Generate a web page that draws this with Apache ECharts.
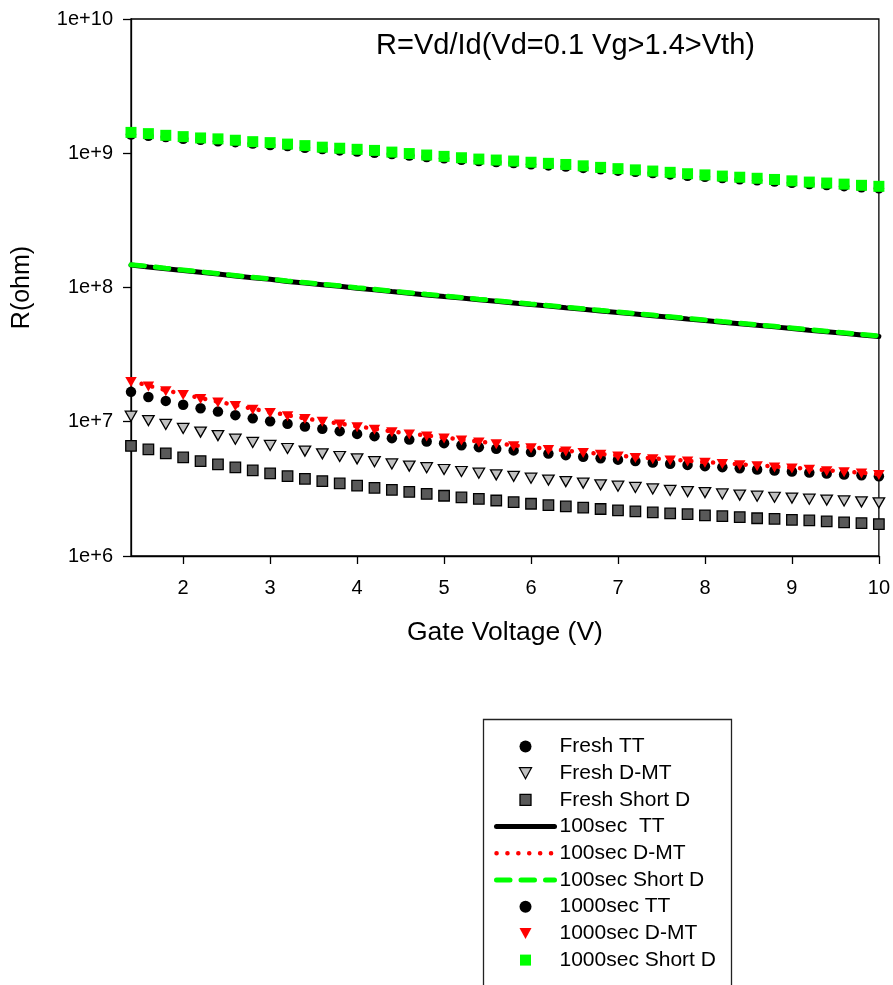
<!DOCTYPE html>
<html>
<head>
<meta charset="utf-8">
<script src="https://cdn.jsdelivr.net/npm/echarts@6/dist/echarts.min.js"></script>
<style>
  html, body { margin: 0; padding: 0; background: #fff; }
  #chart { width: 893px; height: 985px; }
</style>
</head>
<body>
<div id="chart"></div>
<script>
// Gate voltage sweep (V)
const gateVoltage = [1.4, 1.6, 1.8, 2.0, 2.2, 2.4, 2.6, 2.8, 3.0, 3.2, 3.4, 3.6, 3.8, 4.0, 4.2, 4.4,
  4.6, 4.8, 5.0, 5.2, 5.4, 5.6, 5.8, 6.0, 6.2, 6.4, 6.6, 6.8, 7.0, 7.2, 7.4, 7.6, 7.8, 8.0,
  8.2, 8.4, 8.6, 8.8, 9.0, 9.2, 9.4, 9.6, 9.8, 10.0];

// Resistance R = Vd/Id (ohm)
const freshTT = [1.67e7, 1.53e7, 1.43e7, 1.34e7, 1.26e7, 1.19e7, 1.12e7, 1.06e7, 1.01e7, 9.65e6,
  9.23e6, 8.85e6, 8.51e6, 8.12e6, 7.81e6, 7.55e6, 7.36e6, 7.13e6, 6.93e6, 6.69e6,
  6.47e6, 6.28e6, 6.12e6, 5.94e6, 5.79e6, 5.64e6, 5.49e6, 5.35e6, 5.22e6, 5.09e6,
  4.97e6, 4.87e6, 4.77e6, 4.67e6, 4.59e6, 4.50e6, 4.41e6, 4.34e6, 4.26e6, 4.18e6,
  4.11e6, 4.05e6, 3.99e6, 3.93e6];

const freshDMT = [1.10e7, 1.02e7, 9.55e6, 8.91e6, 8.37e6, 7.88e6, 7.42e6, 7.01e6, 6.66e6, 6.32e6,
  6.04e6, 5.77e6, 5.51e6, 5.29e6, 5.04e6, 4.85e6, 4.67e6, 4.55e6, 4.41e6, 4.26e6,
  4.14e6, 4.02e6, 3.92e6, 3.80e6, 3.68e6, 3.58e6, 3.49e6, 3.39e6, 3.31e6, 3.24e6,
  3.16e6, 3.08e6, 3.02e6, 2.97e6, 2.90e6, 2.84e6, 2.79e6, 2.74e6, 2.70e6, 2.65e6,
  2.61e6, 2.57e6, 2.53e6, 2.49e6];

const freshShortD = [6.61e6, 6.22e6, 5.81e6, 5.42e6, 5.09e6, 4.81e6, 4.57e6, 4.34e6, 4.13e6, 3.93e6,
  3.76e6, 3.61e6, 3.47e6, 3.34e6, 3.22e6, 3.11e6, 3.00e6, 2.90e6, 2.81e6, 2.73e6,
  2.66e6, 2.59e6, 2.52e6, 2.45e6, 2.39e6, 2.34e6, 2.29e6, 2.24e6, 2.19e6, 2.15e6,
  2.11e6, 2.08e6, 2.05e6, 2.01e6, 1.98e6, 1.95e6, 1.91e6, 1.89e6, 1.86e6, 1.84e6,
  1.81e6, 1.78e6, 1.76e6, 1.73e6];

const sec100TT = [1.47e8, 1.42e8, 1.38e8, 1.34e8, 1.30e8, 1.26e8, 1.22e8, 1.18e8, 1.15e8, 1.11e8,
  1.08e8, 1.05e8, 1.02e8, 9.88e7, 9.60e7, 9.32e7, 9.07e7, 8.81e7, 8.57e7, 8.34e7,
  8.11e7, 7.89e7, 7.68e7, 7.47e7, 7.27e7, 7.07e7, 6.88e7, 6.69e7, 6.51e7, 6.34e7,
  6.16e7, 6.00e7, 5.83e7, 5.68e7, 5.52e7, 5.37e7, 5.23e7, 5.09e7, 4.95e7, 4.81e7,
  4.68e7, 4.56e7, 4.43e7, 4.31e7];

const sec100DMT = [2.01e7, 1.86e7, 1.72e7, 1.60e7, 1.50e7, 1.41e7, 1.33e7, 1.25e7, 1.18e7, 1.12e7,
  1.06e7, 1.01e7, 9.70e6, 9.25e6, 8.86e6, 8.46e6, 8.16e6, 7.89e6, 7.62e6, 7.36e6,
  7.12e6, 6.89e6, 6.68e6, 6.46e6, 6.27e6, 6.10e6, 5.93e6, 5.76e6, 5.61e6, 5.46e6,
  5.34e6, 5.23e6, 5.13e6, 5.01e6, 4.92e6, 4.82e6, 4.74e6, 4.64e6, 4.56e6, 4.46e6,
  4.35e6, 4.26e6, 4.17e6, 4.07e6];

const sec100ShortD = [1.48e8, 1.44e8, 1.39e8, 1.35e8, 1.31e8, 1.27e8, 1.23e8, 1.19e8, 1.16e8, 1.12e8,
  1.09e8, 1.06e8, 1.03e8, 9.97e7, 9.69e7, 9.41e7, 9.15e7, 8.89e7, 8.65e7, 8.42e7,
  8.19e7, 7.97e7, 7.75e7, 7.54e7, 7.34e7, 7.14e7, 6.95e7, 6.76e7, 6.58e7, 6.40e7,
  6.23e7, 6.06e7, 5.89e7, 5.74e7, 5.58e7, 5.43e7, 5.28e7, 5.14e7, 5.00e7, 4.86e7,
  4.73e7, 4.60e7, 4.48e7, 4.36e7];

const sec1000TT = [1.38e9, 1.35e9, 1.32e9, 1.28e9, 1.26e9, 1.23e9, 1.21e9, 1.18e9, 1.15e9, 1.13e9,
  1.10e9, 1.075e9, 1.05e9, 1.03e9, 1.01e9, 9.86e8, 9.61e8, 9.37e8, 9.16e8, 8.94e8,
  8.75e8, 8.60e8, 8.45e8, 8.28e8, 8.12e8, 7.97e8, 7.78e8, 7.59e8, 7.42e8, 7.27e8,
  7.12e8, 6.96e8, 6.80e8, 6.67e8, 6.53e8, 6.40e8, 6.29e8, 6.16e8, 6.02e8, 5.89e8,
  5.80e8, 5.69e8, 5.57e8, 5.48e8];

const sec1000DMT = [1.98e7, 1.83e7, 1.69e7, 1.58e7, 1.48e7, 1.39e7, 1.31e7, 1.23e7, 1.16e7, 1.10e7,
  1.05e7, 9.98e6, 9.55e6, 9.11e6, 8.73e6, 8.34e6, 8.04e6, 7.77e6, 7.51e6, 7.25e6,
  7.01e6, 6.79e6, 6.58e6, 6.36e6, 6.17e6, 6.01e6, 5.84e6, 5.68e6, 5.52e6, 5.38e6,
  5.26e6, 5.15e6, 5.05e6, 4.94e6, 4.85e6, 4.75e6, 4.67e6, 4.57e6, 4.49e6, 4.39e6,
  4.28e6, 4.20e6, 4.11e6, 4.01e6];

const sec1000ShortD = [1.43e9, 1.40e9, 1.36e9, 1.33e9, 1.30e9, 1.28e9, 1.25e9, 1.22e9, 1.20e9, 1.17e9,
  1.14e9, 1.11e9, 1.09e9, 1.07e9, 1.05e9, 1.02e9, 9.95e8, 9.70e8, 9.48e8, 9.26e8,
  9.05e8, 8.90e8, 8.75e8, 8.57e8, 8.41e8, 8.25e8, 8.06e8, 7.85e8, 7.68e8, 7.52e8,
  7.37e8, 7.21e8, 7.04e8, 6.90e8, 6.76e8, 6.63e8, 6.51e8, 6.38e8, 6.23e8, 6.10e8,
  6.00e8, 5.89e8, 5.77e8, 5.67e8];

// Axis ticks
const xTicks = [2, 3, 4, 5, 6, 7, 8, 9, 10];
const yMin = 1e6, yMax = 1e10;

const FONT = "'Liberation Sans', Arial, Helvetica, sans-serif";
const pairs = ys => gateVoltage.map((x, i) => [x, ys[i]]);

// Legend marker paths: the leading moveTo points span the whole icon box,
// so the marker keeps its own proportions in the middle of it.
const LEGEND_W = 58, LEGEND_H = 12;
const boxPrefix = 'path://M0,0 M' + LEGEND_W + ',' + LEGEND_H + ' ';
const legendIcons = {
  circle: 'circle',
  triangle: boxPrefix + 'M23,0.5 L35,0.5 L29,11.5 Z',
  rect: boxPrefix + 'M23.5,0.5 L34.5,0.5 L34.5,11.5 L23.5,11.5 Z'
};

const scatter = (name, ys, symbol, size, style, rotate) => ({
  name, type: 'scatter', data: pairs(ys), symbol, symbolSize: size,
  symbolRotate: rotate || 0, symbolKeepAspect: true,
  itemStyle: Object.assign({ opacity: 1 }, style), silent: true
});
const line = (name, ys, style) => ({
  name, type: 'line', data: pairs(ys), symbol: 'none', showSymbol: false,
  lineStyle: Object.assign({ opacity: 1 }, style), itemStyle: { color: style.color }, silent: true
});

const series = [
  scatter('Fresh TT', freshTT, 'circle', 10.5, { color: '#000' }),
  scatter('Fresh D-MT', freshDMT, 'triangle', [11.5, 10],
    { color: '#c0c0c0', borderColor: '#000', borderWidth: 1.3 }, 180),
  scatter('Fresh Short D', freshShortD, 'rect', 10.5,
    { color: '#595959', borderColor: '#000', borderWidth: 1.3 }),
  line('100sec  TT', sec100TT, { color: '#000', width: 5, cap: 'round', type: 'solid' }),
  line('100sec D-MT', sec100DMT, { color: '#ff0000', width: 4.5, cap: 'round', type: [0.1, 10.8] }),
  line('100sec Short D', sec100ShortD, { color: '#00ff00', width: 5, cap: 'round', type: [13.5, 11] }),
  scatter('1000sec TT', sec1000TT, 'circle', 10.5, { color: '#000' }),
  scatter('1000sec D-MT', sec1000DMT, 'triangle', [11.5, 10], { color: '#ff0000' }, 180),
  scatter('1000sec Short D', sec1000ShortD, 'rect', 11, { color: '#00ff00' })
];

const legendData = series.map(s => {
  if (s.type === 'line') {
    return {
      name: s.name,
      itemStyle: { opacity: 0 },
      lineStyle: Object.assign({}, s.lineStyle)
    };
  }
  const st = s.itemStyle;
  return {
    name: s.name,
    icon: legendIcons[s.symbol],
    symbolRotate: 0,
    itemStyle: {
      color: st.color, opacity: 1,
      borderColor: st.borderColor || st.color,
      borderWidth: st.borderWidth || 0
    }
  };
});

const chart = echarts.init(document.getElementById('chart'), null, { renderer: 'canvas' });
chart.setOption({
  animation: false,
  backgroundColor: '#fff',
  textStyle: { fontFamily: FONT },
  grid: {
    left: 131, right: 14, top: 19, bottom: 429,
    show: true, borderColor: '#000', borderWidth: 1.3, backgroundColor: 'transparent'
  },
  xAxis: {
    type: 'value', min: 1.4, max: 10,
    name: 'Gate Voltage (V)', nameLocation: 'middle', nameGap: 63,
    nameTextStyle: { fontSize: 26.5, color: '#000', fontFamily: FONT },
    axisLine: { show: true, lineStyle: { color: '#000', width: 1.3 } },
    axisTick: { show: true, inside: false, length: 8, customValues: xTicks,
      lineStyle: { color: '#000', width: 1.3 } },
    axisLabel: { show: true, customValues: xTicks, margin: 22, fontSize: 20,
      color: '#000', fontFamily: FONT },
    splitLine: { show: false }
  },
  yAxis: {
    type: 'log', logBase: 10, min: yMin, max: yMax,
    name: 'R(ohm)', nameLocation: 'middle', nameRotate: 90, nameGap: 96,
    nameTextStyle: { fontSize: 25, color: '#000', fontFamily: FONT },
    axisLine: { show: true, lineStyle: { color: '#000', width: 1.3 } },
    axisTick: { show: true, inside: false, length: 8, lineStyle: { color: '#000', width: 1.3 } },
    axisLabel: { show: true, margin: 18, fontSize: 20, color: '#000', fontFamily: FONT,
      formatter: v => '1e+' + Math.round(Math.log10(v)) },
    minorTick: { show: false },
    splitLine: { show: false }
  },
  legend: {
    orient: 'vertical', left: 494, top: 736, padding: 0,
    itemWidth: LEGEND_W, itemHeight: LEGEND_H, itemGap: 5.7,
    symbolKeepAspect: true,
    selectedMode: false,
    textStyle: { fontSize: 21, color: '#000', fontFamily: FONT },
    data: legendData
  },
  graphic: [
    {
      type: 'rect', silent: true,
      shape: { x: 483.5, y: 719.5, width: 248, height: 300 },
      style: { fill: 'none', stroke: '#222', lineWidth: 1.3 }
    },
    {
      type: 'text', silent: true, x: 565.5, y: 46,
      style: { text: 'R=Vd/Id(Vd=0.1 Vg>1.4>Vth)', font: '29px ' + FONT,
        fill: '#000', align: 'center', verticalAlign: 'middle' }
    }
  ],
  series
});
</script>
</body>
</html>
